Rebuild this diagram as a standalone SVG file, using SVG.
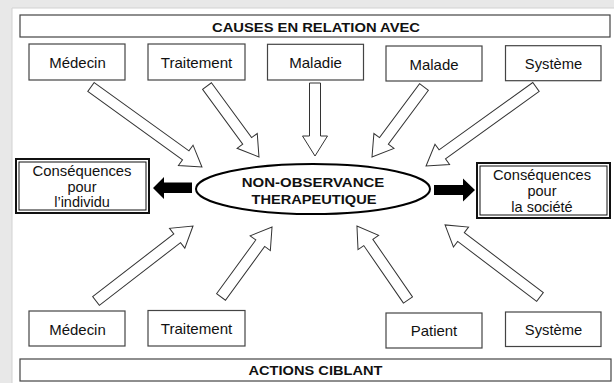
<svg xmlns="http://www.w3.org/2000/svg" width="614" height="385" viewBox="0 0 614 385">
<style>
.box{fill:#fff;stroke:#444;stroke-width:1.2}
.hdr{fill:#fff;stroke:#444;stroke-width:1.2}
.t{font-family:"Liberation Sans",Arial,sans-serif;font-size:14.5px;fill:#111;text-anchor:middle}
.b{font-family:"Liberation Sans",Arial,sans-serif;font-size:13px;font-weight:bold;fill:#111;text-anchor:middle}
.ha{fill:#fff;stroke:#333;stroke-width:1}
.blk{fill:#000;stroke:none}
</style>
<rect x="0" y="0" width="614" height="385" fill="#fff"/>
<rect x="0" y="0" width="614" height="8" fill="#e8e8e8"/>
<rect x="0" y="0" width="12" height="383" fill="#e8e8e8"/>
<line x1="12" y1="8" x2="12" y2="383" stroke="#d2d2d2" stroke-width="1"/>
<line x1="12" y1="8" x2="614" y2="8" stroke="#d2d2d2" stroke-width="1"/>

<g id="header-causes">
<rect class="hdr" x="20" y="15" width="590" height="22"/>
<text class="b" x="316" y="32" textLength="208" lengthAdjust="spacingAndGlyphs">CAUSES EN RELATION AVEC</text>
</g>
<g id="cause-medecin">
<rect class="box" x="29" y="44" width="96" height="36"/>
<text class="t" x="77.5" y="68.3" textLength="56.5" lengthAdjust="spacingAndGlyphs">Médecin</text>
</g>
<g id="cause-traitement">
<rect class="box" x="148" y="44" width="97" height="36"/>
<text class="t" x="196.5" y="68.3" textLength="71.5" lengthAdjust="spacingAndGlyphs">Traitement</text>
</g>
<g id="cause-maladie">
<rect class="box" x="267.5" y="44.3" width="96" height="35.7"/>
<text class="t" x="315.5" y="68.3" textLength="52.7" lengthAdjust="spacingAndGlyphs">Maladie</text>
</g>
<g id="cause-malade">
<rect class="box" x="386" y="46" width="96" height="35"/>
<text class="t" x="434" y="69.5" textLength="49" lengthAdjust="spacingAndGlyphs">Malade</text>
</g>
<g id="cause-systeme">
<rect class="box" x="505.5" y="45.7" width="95.5" height="35"/>
<text class="t" x="553.5" y="69" textLength="57.3" lengthAdjust="spacingAndGlyphs">Système</text>
</g>

<g id="center">
<ellipse cx="313" cy="189" rx="117" ry="25" fill="#fff" stroke="#000" stroke-width="2"/>
<text class="b" x="313" y="186.7" textLength="142.5" lengthAdjust="spacingAndGlyphs">NON-OBSERVANCE</text>
<text class="b" x="314" y="204" textLength="125" lengthAdjust="spacingAndGlyphs">THERAPEUTIQUE</text>
</g>

<g id="consequence-individu">
<rect x="16" y="159" width="133" height="54" fill="#fff" stroke="#111" stroke-width="2"/>
<rect x="19" y="162" width="127" height="48" fill="none" stroke="#111" stroke-width="1"/>
<text class="t" x="82" y="176" textLength="99" lengthAdjust="spacingAndGlyphs">Conséquences</text>
<text class="t" x="82" y="191.5">pour</text>
<text class="t" x="82" y="207">l’individu</text>
</g>
<g id="consequence-societe">
<rect x="477" y="163" width="133" height="55" fill="#fff" stroke="#111" stroke-width="2"/>
<rect x="480" y="166" width="127" height="49" fill="none" stroke="#111" stroke-width="1"/>
<text class="t" x="542" y="179.5" textLength="98" lengthAdjust="spacingAndGlyphs">Conséquences</text>
<text class="t" x="542" y="195.5">pour</text>
<text class="t" x="542" y="211.5">la société</text>
</g>

<g id="action-medecin">
<rect class="box" x="29" y="311" width="96" height="35"/>
<text class="t" x="77.5" y="334.5" textLength="56.5" lengthAdjust="spacingAndGlyphs">Médecin</text>
</g>
<g id="action-traitement">
<rect class="box" x="148" y="310.5" width="97" height="35.5"/>
<text class="t" x="196.5" y="334" textLength="71.5" lengthAdjust="spacingAndGlyphs">Traitement</text>
</g>
<g id="action-patient">
<rect class="box" x="386" y="313" width="96" height="35"/>
<text class="t" x="434" y="336" textLength="46.6" lengthAdjust="spacingAndGlyphs">Patient</text>
</g>
<g id="action-systeme">
<rect class="box" x="505.5" y="312" width="95.5" height="34.5"/>
<text class="t" x="553.5" y="335" textLength="57.3" lengthAdjust="spacingAndGlyphs">Système</text>
</g>
<g id="header-actions">
<rect class="hdr" x="20" y="359" width="591" height="22"/>
<text class="b" x="315.5" y="375" textLength="134" lengthAdjust="spacingAndGlyphs">ACTIONS CIBLANT</text>
</g>

<g id="connectors">
<polygon class="ha" transform="translate(91,87) rotate(35.8)" points="0,-5.5 116.8,-5.5 116.8,-12.5 136.8,0 116.8,12.5 116.8,5.5 0,5.5"/>
<polygon class="ha" transform="translate(207,86) rotate(53.8)" points="0,-5.5 68,-5.5 68,-12.5 88,0 68,12.5 68,5.5 0,5.5"/>
<polygon class="ha" transform="translate(315,83) rotate(90)" points="0,-5.5 53,-5.5 53,-12.5 73,0 53,12.5 53,5.5 0,5.5"/>
<polygon class="ha" transform="translate(424,87) rotate(126.6)" points="0,-5.5 67.2,-5.5 67.2,-12.5 87.2,0 67.2,12.5 67.2,5.5 0,5.5"/>
<polygon class="ha" transform="translate(536,87) rotate(144.3)" points="0,-5.5 115.4,-5.5 115.4,-12.5 135.4,0 115.4,12.5 115.4,5.5 0,5.5"/>
<polygon class="ha" transform="translate(96,301) rotate(-37.7)" points="0,-5.5 102.6,-5.5 102.6,-12.5 122.6,0 102.6,12.5 102.6,5.5 0,5.5"/>
<polygon class="ha" transform="translate(221,297) rotate(-53.9)" points="0,-5.5 66.6,-5.5 66.6,-12.5 86.6,0 66.6,12.5 66.6,5.5 0,5.5"/>
<polygon class="ha" transform="translate(408,300) rotate(-124.6)" points="0,-5.5 69.9,-5.5 69.9,-12.5 89.9,0 69.9,12.5 69.9,5.5 0,5.5"/>
<polygon class="ha" transform="translate(540,297) rotate(-142.8)" points="0,-5.5 99.2,-5.5 99.2,-12.5 119.2,0 99.2,12.5 99.2,5.5 0,5.5"/>
<polygon class="blk" points="192,182.5 164,182.5 164,177 153,188 164,199 164,193 192,193"/>
<polygon class="blk" points="434,185 463,185 463,178.5 475,190 463,201.5 463,195 434,195"/>
</g>
</svg>
